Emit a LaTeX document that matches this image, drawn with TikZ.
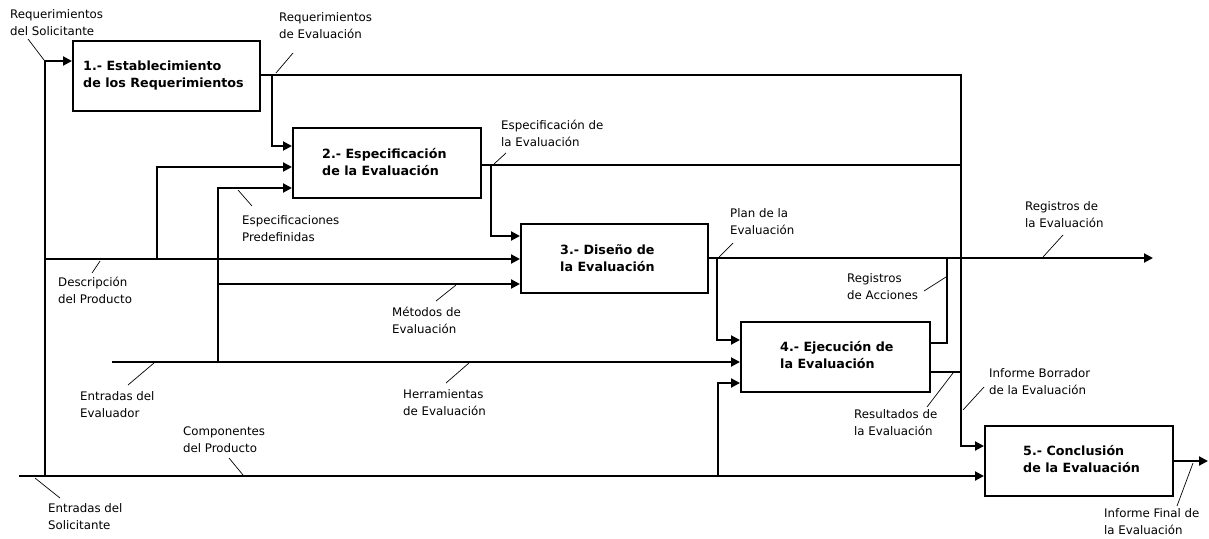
\documentclass[tikz,border=0pt]{standalone}
\usepackage{fontspec}
\setmainfont{DejaVu Sans}
\usetikzlibrary{arrows.meta}
\begin{document}
\begin{tikzpicture}[x=1pt,y=-1pt,
  box/.style={draw, line width=2pt, inner sep=0pt},
  boxtext/.style={font=\bfseries\fontsize{12.7}{17}\selectfont, align=left, inner sep=0pt, anchor=west},
  lab/.style={font=\fontsize{11.8}{17}\selectfont, align=left, inner sep=0pt, anchor=west},
  wire/.style={line width=2pt},
  flow/.style={line width=2pt, -{Triangle[length=9pt,width=9pt]}},
  leader/.style={line width=0.7pt}]
\useasboundingbox (0,0) rectangle (1209,538);
% boxes
\node[box, minimum width=187pt, minimum height=70pt] (b1) at (166.5,76) {};
\node[box, minimum width=188pt, minimum height=70pt] (b2) at (387,163) {};
\node[box, minimum width=187pt, minimum height=69pt] (b3) at (614.5,258.5) {};
\node[box, minimum width=189pt, minimum height=70pt] (b4) at (835.5,357) {};
\node[box, minimum width=188pt, minimum height=70pt] (b5) at (1079,461) {};
\node[boxtext] (t1) at (83,75.5) {1.- Establecimiento\\de los Requerimientos};
\node[boxtext] (t2) at (322,162.5) {2.- Especificación\\de la Evaluación};
\node[boxtext] (t3) at (560,258) {3.- Diseño de\\la Evaluación};
\node[boxtext] (t4) at (780,355.5) {4.- Ejecución de\\la Evaluación};
\node[boxtext] (t5) at (1023,459) {5.- Conclusión\\de la Evaluación};
% junction coordinates
\coordinate (inS) at (19,476);
\coordinate (sA) at (45,476);
\coordinate (sB) at (45,61);
\coordinate (r1) at (961,75);
\coordinate (r2) at (961,446);
\coordinate (k1) at (272,75);
\coordinate (k2) at (272,146);
\coordinate (e1) at (491,165);
\coordinate (e2) at (491,236);
\coordinate (e3) at (961,165);
\coordinate (d0) at (45,259);
\coordinate (d1) at (157,259);
\coordinate (d2) at (157,167);
\coordinate (v0) at (112,362);
\coordinate (v1) at (218,362);
\coordinate (v2) at (218,188);
\coordinate (v3) at (218,284);
\coordinate (p1) at (717,258);
\coordinate (p2) at (717,340);
\coordinate (pEnd) at (1153,258);
\coordinate (a1) at (947,343);
\coordinate (a2) at (947,258);
\coordinate (q1) at (961,372);
\coordinate (h1) at (718,476);
\coordinate (h2) at (718,383);
\coordinate (fEnd) at (1208,461);
% connectors
\draw[flow] (inS) -- (b5.west |- inS);
\draw[flow] (sA) -- (sB) -- (b1.west |- sB);
\draw[flow] (b1.east |- r1) -- (r1) -- (r2) -- (b5.west |- r2);
\draw[flow] (k1) -- (k2) -- (b2.west |- k2);
\draw[wire] (b2.east |- e1) -- (e3);
\draw[flow] (e1) -- (e2) -- (b3.west |- e2);
\draw[flow] (d0) -- (b3.west |- d0);
\draw[flow] (d1) -- (d2) -- (b2.west |- d2);
\draw[flow] (v0) -- (b4.west |- v0);
\draw[flow] (v1) -- (v2) -- (b2.west |- v2);
\draw[flow] (v3) -- (b3.west |- v3);
\draw[flow] (b3.east |- p1) -- (pEnd);
\draw[flow] (p1) -- (p2) -- (b4.west |- p2);
\draw[wire] (b4.east |- a1) -- (a1) -- (a2);
\draw[wire] (b4.east |- q1) -- (q1);
\draw[flow] (h1) -- (h2) -- (b4.west |- h2);
\draw[flow] (b5.east |- fEnd) -- (fEnd);
% labels
\node[lab] (lReqSol) at (10,22.5) {Requerimientos\\del Solicitante};
\node[lab] (lReqEv) at (279,26) {Requerimientos\\de Evaluación};
\node[lab] (lEspEv) at (501,133) {Especificación de\\la Evaluación};
\node[lab] (lPlan) at (730,221.5) {Plan de la\\Evaluación};
\node[lab] (lRegEv) at (1025,214.5) {Registros de\\la Evaluación};
\node[lab] (lRegAc) at (847,287) {Registros\\de Acciones};
\node[lab] (lRes) at (854,423) {Resultados de\\la Evaluación};
\node[lab] (lBorr) at (989,381.5) {Informe Borrador\\de la Evaluación};
\node[lab] (lFinal) at (1104,521.5) {Informe Final de\\la Evaluación};
\node[lab] (lMet) at (392,320) {Métodos de\\Evaluación};
\node[lab] (lHer) at (403,402.5) {Herramientas\\de Evaluación};
\node[lab] (lDesc) at (58,290) {Descripción\\del Producto};
\node[lab] (lEspPre) at (242,228.5) {Especificaciones\\Predefinidas};
\node[lab] (lEntEv) at (80,405) {Entradas del\\Evaluador};
\node[lab] (lComp) at (183,439.5) {Componentes\\del Producto};
\node[lab] (lEntSol) at (48,517) {Entradas del\\Solicitante};
% leader lines
\draw[leader] (28,39) -- (44,60);
\draw[leader] (293,53) -- (276,73);
\draw[leader] (506,153) -- (494,164);
\draw[leader] (733,243) -- (719,257);
\draw[leader] (100,261) -- (92,273);
\draw[leader] (238,190) -- (252,206);
\draw[leader] (154,363) -- (128,385);
\draw[leader] (229,458) -- (243,475);
\draw[leader] (35,478) -- (60,498);
\draw[leader] (456,285) -- (436,301);
\draw[leader] (469,363) -- (446,383);
\draw[leader] (1063,235) -- (1043,257);
\draw[leader] (924,291) -- (946,277);
\draw[leader] (927,407) -- (953,373);
\draw[leader] (963,410) -- (984,387);
\draw[leader] (1177,506) -- (1193,463);
\end{tikzpicture}
\end{document}
